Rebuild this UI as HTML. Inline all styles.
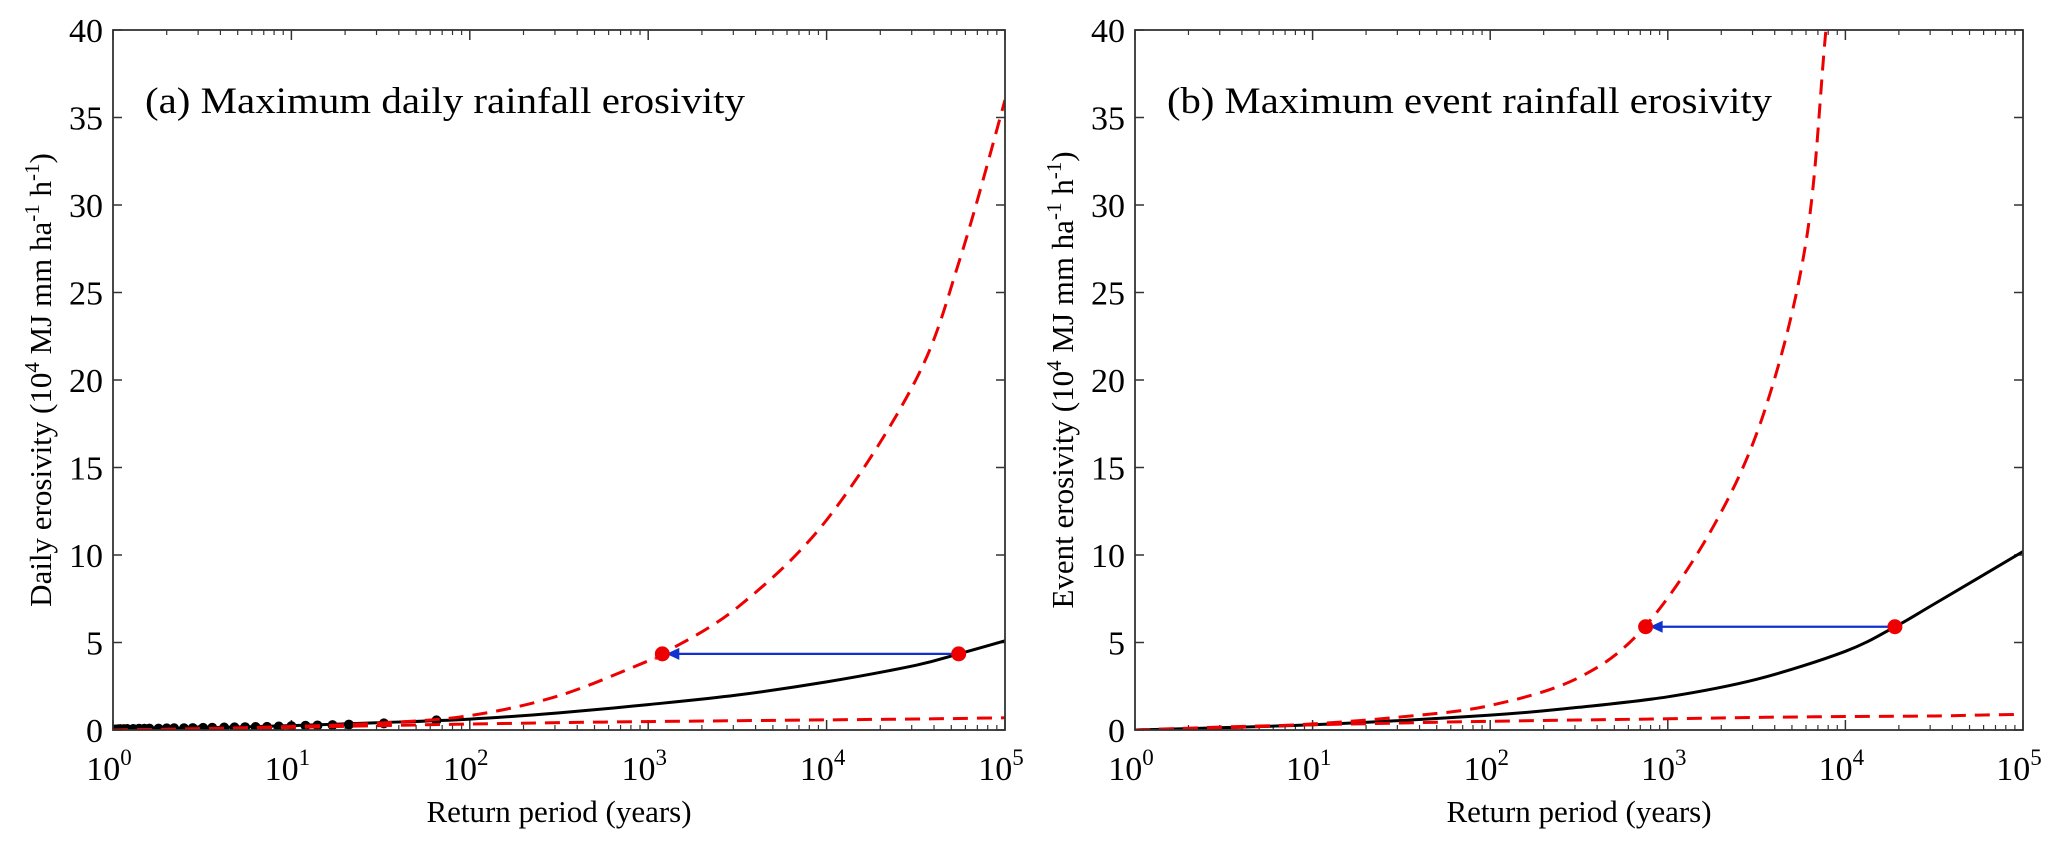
<!DOCTYPE html>
<html><head><meta charset="utf-8"><style>
body{margin:0;background:#fff}
svg{display:block;font-family:"Liberation Serif",serif}
</style></head><body>
<svg id="fig" width="2067" height="851" viewBox="0 0 2067 851" xmlns="http://www.w3.org/2000/svg"></svg>
<script>
// Panel (a) data (log10 return period -> erosivity, 10^4 units)
const aLogT = [0, 0.5, 1, 1.5, 2, 2.5, 3, 3.5, 4, 4.5, 4.74, 5];
const aBlack = [0.0, 0.12, 0.25, 0.42, 0.62, 0.98, 1.45, 2.0, 2.75, 3.7, 4.35, 5.1];
const aUpLogT = [0, 0.5, 1, 1.5, 2, 2.5, 3, 3.08, 3.5, 4, 4.5, 4.75, 5];
const aRedUp = [0.0, 0.08, 0.2, 0.4, 0.82, 1.96, 3.95, 4.35, 7.0, 12.0, 20.0, 27, 36];
const aRedLo = [0.0, 0.06, 0.15, 0.25, 0.34, 0.42, 0.48, 0.53, 0.58, 0.63, 0.66, 0.7];
const aObsT = [1.0,1.03,1.07,1.1,1.15,1.2,1.3,1.4,1.5,1.6,1.8,2,2.2,2.5,2.8,3.2,3.6,4.2,4.8,5.5,6.3,7.3,8.5,10,12,14,17,21,33,65];
const aObsV = [0.02,0.03,0.04,0.05,0.05,0.06,0.06,0.07,0.07,0.08,0.08,0.09,0.1,0.1,0.11,0.12,0.13,0.14,0.15,0.16,0.17,0.18,0.2,0.22,0.24,0.26,0.28,0.31,0.38,0.55];
const aArrow = {fromT: 5.5e4, toT: 1.2e3, v: 4.35};
// Panel (b) data
const bLogT = [0, 1, 2, 2.5, 3, 3.5, 4, 4.28, 4.5, 5];
const bBlack = [0.0, 0.3, 0.85, 1.3, 1.9, 2.9, 4.5, 5.9, 7.2, 10.2];
const bUpLogT = [0, 0.5, 1, 1.5, 2, 2.5, 2.87, 3.26, 3.55, 3.78, 3.89, 4.0];
const bRedUp = [0.0, 0.12, 0.35, 0.75, 1.4, 3.0, 5.9, 11.7, 18.4, 28, 40, 52];
const bRedLo = [0.0, 0.17, 0.3, 0.4, 0.5, 0.57, 0.64, 0.72, 0.77, 0.8, 0.85, 0.9];
const bLoLogT = [0, 0.5, 1, 1.5, 2, 2.5, 3, 3.5, 4, 4.5, 4.75, 5];
const bArrow = {fromT: 1.9e4, toT: 750, v: 5.9};
const yTicks = [0,5,10,15,20,25,30,35,40];
const xDecades = [0,1,2,3,4,5];

const NS="http://www.w3.org/2000/svg";
const svg=document.getElementById('fig');
function el(tag,attrs,parent){const e=document.createElementNS(NS,tag);for(const k in attrs)e.setAttribute(k,attrs[k]);(parent||svg).appendChild(e);return e;}
function smooth(pts){
  let d='M'+pts[0][0].toFixed(1)+','+pts[0][1].toFixed(1);
  for(let i=0;i<pts.length-1;i++){
    const p0=pts[i-1]||pts[i],p1=pts[i],p2=pts[i+1],p3=pts[i+2]||p2;
    const c1=[p1[0]+(p2[0]-p0[0])/6,p1[1]+(p2[1]-p0[1])/6];
    const c2=[p2[0]-(p3[0]-p1[0])/6,p2[1]-(p3[1]-p1[1])/6];
    d+=` C${c1[0].toFixed(1)},${c1[1].toFixed(1)} ${c2[0].toFixed(1)},${c2[1].toFixed(1)} ${p2[0].toFixed(1)},${p2[1].toFixed(1)}`;
  }
  return d;
}

function panel(P){
  const g=el('g',{});
  
  
  const L=P.L,R=P.R,T=30,B=730;
  const xs=lt=>L+(R-L)*lt/5;
  const ys=v=>B-(B-T)*v/40;
  const clip=el('clipPath',{id:'c'+P.id},g);
  el('rect',{x:L,y:T,width:R-L,height:B-T},clip);
  for(const d of xDecades){
    for(const y0 of [B,T]){const dir=y0===B?-1:1;
      el('line',{x1:xs(d),x2:xs(d),y1:y0,y2:y0+dir*10,stroke:'#333','stroke-width':1.5},g);
      if(d<5)for(let m=2;m<10;m++){const x=xs(d+Math.log10(m));el('line',{x1:x,x2:x,y1:y0,y2:y0+dir*5,stroke:'#333','stroke-width':1.2},g);}
    }
    const t=el('text',{x:xs(d)-4,y:780,'font-size':34,'text-anchor':'middle'},g);
    
    t.innerHTML='10<tspan dy="-15" font-size="23">'+d+'</tspan>';
  }
  for(const v of yTicks){
    el('line',{x1:L,x2:L+9,y1:ys(v),y2:ys(v),stroke:'#333','stroke-width':1.5},g);
    el('line',{x1:R,x2:R-9,y1:ys(v),y2:ys(v),stroke:'#333','stroke-width':1.5},g);
    const t=el('text',{x:L-10,y:ys(v)+12,'font-size':34,'text-anchor':'end'},g);
    
    t.textContent=v;
  }
  const cg=el('g',{'clip-path':'url(#c'+P.id+')'},g);
  function line(lx,vals,attrs,name){
    const p=el('path',Object.assign({d:smooth(lx.map((lt,i)=>[xs(lt),ys(vals[i])])),fill:'none'},attrs),cg);
    
  }
  line(P.lt,P.black,{stroke:'#000','stroke-width':3},'fitted-curve');
  if(P.obsT)P.obsT.forEach((t,i)=>{const c=el('circle',{cx:xs(Math.log10(t)),cy:ys(P.obsV[i]),r:5,fill:'#000'},cg);});
  line(P.llt,P.lo,{stroke:'#e00','stroke-width':3,'stroke-dasharray':'15 9'},'lower-bound-curve');
  line(P.ult,P.up,{stroke:'#e00','stroke-width':3,'stroke-dasharray':'15 9'},'upper-bound-curve');
  const x1=xs(Math.log10(P.arrow.fromT)),x2=xs(Math.log10(P.arrow.toT)),y=ys(P.arrow.v);
  const a=el('line',{x1,x2:x2+14,y1:y,y2:y,stroke:'#1030d0','stroke-width':2.2},g);
  
  el('polygon',{points:`${x2+4},${y} ${x2+17},${y-6} ${x2+17},${y+6}`,fill:'#1030d0'},g);
  for(const x of [x1,x2]){const c=el('circle',{cx:x,cy:y,r:7.5,fill:'#e00'},g);}
  el('rect',{x:L,y:T,width:R-L,height:B-T,fill:'none',stroke:'#333','stroke-width':1.8},g);
  const ti=el('text',{x:L+32,y:113,'font-size':37,textLength:P.tlen,lengthAdjust:'spacingAndGlyphs'},g);ti.textContent=P.title;
  
  const xl=el('text',{x:(L+R)/2,y:822,'font-size':31,'text-anchor':'middle'},g);xl.textContent='Return period (years)';
  
  const yl=el('text',{x:0,y:0,'font-size':31,'text-anchor':'middle',transform:`translate(${L-62},${(T+B)/2}) rotate(-90)`},g);
  
  yl.innerHTML=P.ylab+' (10<tspan dy="-12" font-size="21">4</tspan><tspan dy="12"> MJ mm ha</tspan><tspan dy="-12" font-size="21">-1</tspan><tspan dy="12"> h</tspan><tspan dy="-12" font-size="21">-1</tspan><tspan dy="12">)</tspan>';
}
panel({id:'panel-a',L:113,R:1005,lt:aLogT,ult:aUpLogT,llt:aLogT,black:aBlack,up:aRedUp,lo:aRedLo,obsT:aObsT,obsV:aObsV,arrow:aArrow,title:'(a) Maximum daily rainfall erosivity',tlen:600,ylab:'Daily erosivity'});
panel({id:'panel-b',L:1135,R:2023,lt:bLogT,ult:bUpLogT,llt:bLoLogT,black:bBlack,up:bRedUp,lo:bRedLo,arrow:bArrow,title:'(b) Maximum event rainfall erosivity',tlen:605,ylab:'Event erosivity'});
</script>
</body></html>
